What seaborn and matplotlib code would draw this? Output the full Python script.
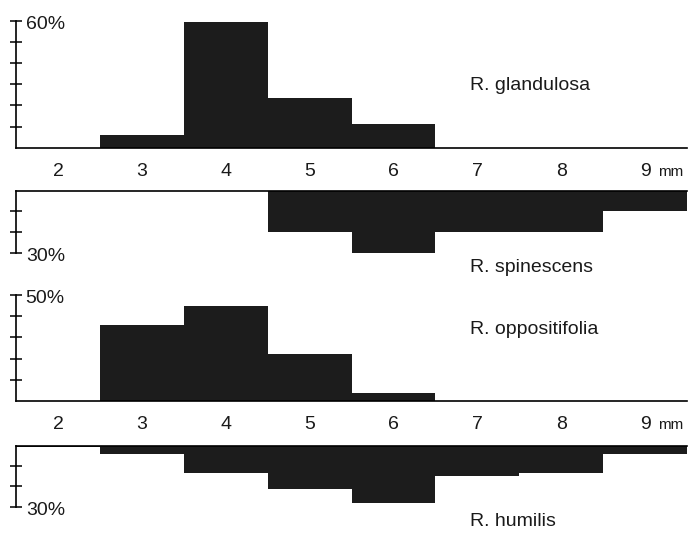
import matplotlib
matplotlib.use("Agg")
import matplotlib.pyplot as plt
import seaborn as sns
import numpy as np

# ---- data (percent of individuals per size class, mm) ----
sizes = [2, 3, 4, 5, 6, 7, 8, 9]
glandulosa = [0, 6, 59.5, 23.5, 11, 0, 0, 0]
spinescens = [0, 0, 0, 20, 30.5, 20, 20, 10]
oppositifolia = [0, 36, 45, 22, 4, 0, 0, 0]
humilis = [0.5, 4, 13.5, 21.5, 28, 15, 13.5, 4]

tick_labels = ["2", "3", "4", "5", "6", "7", "8", "9"]
species = ["R. glandulosa", "R. spinescens", "R. oppositifolia", "R. humilis"]
scale_max = [60, 30, 50, 30]
scale_labels = ["60%", "30%", "50%", "30%"]

sns.set_theme(style="white")
plt.rcParams["font.family"] = ["Liberation Sans", "DejaVu Sans"]

W, H = 688, 533
fig = plt.figure(figsize=(W / 100, H / 100), dpi=100)
BAR = "#1c1c1c"
TXT = "#1a1a1a"


def add_ax(top, bottom):
    return fig.add_axes([16 / W, 1 - bottom / H, 671 / W, (bottom - top) / H])


# (values, top px, bottom px, inverted, show x labels, species label y px)
layout = [
    (glandulosa, 20.7, 147.7, False, True, 85),
    (spinescens, 190.7, 252.7, True, False, 268),
    (oppositifolia, 295.0, 401.0, False, True, 330),
    (humilis, 445.7, 506.7, True, False, 521),
]

for i, (vals, top, bottom, inverted, xlab, sp_y) in enumerate(layout):
    ax = add_ax(top, bottom)
    sns.barplot(x=sizes, y=vals, native_scale=True, width=1, color=BAR,
                saturation=1, linewidth=0, errorbar=None, ax=ax)
    ax.set_facecolor("none")
    ax.set_xlim(1.5, 9.5)
    ymax = scale_max[i]
    if inverted:
        ax.set_ylim(ymax, 0)
    else:
        ax.set_ylim(0, ymax)
    ax.set_xlabel("")
    ax.set_ylabel("")
    for s in ax.spines.values():
        s.set_visible(False)
    ax.spines["left"].set_visible(True)
    base = "top" if inverted else "bottom"
    ax.spines[base].set_visible(True)
    for s in ("left", base):
        ax.spines[s].set_color("black")
        ax.spines[s].set_linewidth(1.2)

    ax.set_yticks(np.arange(10, ymax + 1, 10))
    ax.tick_params(axis="y", left=True, direction="inout", length=8,
                   width=1.1, color="black", labelleft=False)

    if xlab:
        ax.set_xticks(sizes)
        ax.set_xticklabels(tick_labels)
        ax.tick_params(axis="x", bottom=True, length=0, pad=11,
                       labelsize=14, labelcolor=TXT)
        ax.annotate("mm", xy=(9, 0), xycoords="data", xytext=(9.5, -20.5),
                    textcoords="offset points", ha="left", va="baseline",
                    fontsize=11, color=TXT)
    else:
        ax.set_xticks([])
        ax.tick_params(axis="x", bottom=False, top=False)

    ax.annotate(scale_labels[i], xy=(0, ymax), xycoords=("axes fraction", "data"),
                xytext=(7, -2.5), textcoords="offset points", ha="left",
                va="center", fontsize=14, color=TXT)

    fig.text(470 / W, 1 - sp_y / H, species[i], ha="left", va="center",
             fontsize=14, color=TXT)

fig.savefig("out.png", dpi=100, facecolor="white")
